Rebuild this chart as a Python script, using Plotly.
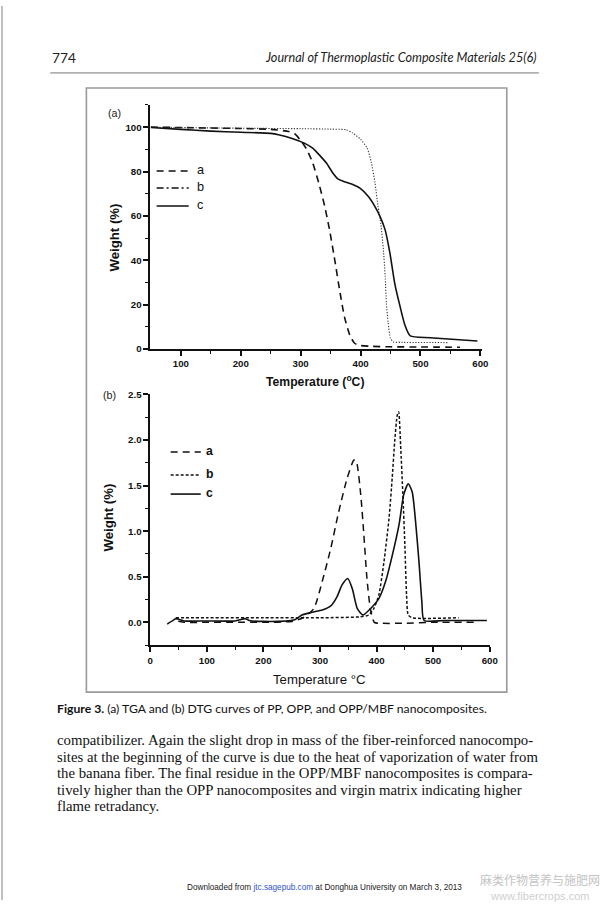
import plotly.graph_objects as go

W, H = 603, 905

# ---------------- data: (a) TGA ----------------
tga_a_T = [50, 100, 150, 200, 250, 280, 290, 300, 310, 320, 330, 340, 348, 357, 365, 373, 382, 390, 399, 420, 450, 500, 566]
tga_a_W = [100, 99.8, 99.6, 99.4, 99.0, 98.0, 97.0, 94.0, 90.0, 84.0, 75.0, 64.5, 54.0, 40.0, 26.6, 14.6, 6.3, 2.6, 1.6, 1.2, 1.0, 0.9, 0.8]

tga_b_T = [50, 100, 200, 300, 350, 376, 387, 400, 411, 418, 424, 429, 434, 438, 441, 443, 446, 450, 455, 470, 547]
tga_b_W = [100, 99.8, 99.5, 99.3, 99.1, 98.8, 97.3, 94.5, 90.5, 84.0, 75.0, 64.5, 56.0, 45.0, 33.0, 21.0, 12.0, 4.8, 3.2, 3.0, 2.9]

tga_c_T = [50, 100, 150, 200, 250, 263, 287, 306, 320, 331, 343, 354, 362, 371, 385, 399, 413, 424, 432, 441, 449, 457, 466, 474, 483, 516, 595]
tga_c_W = [99.8, 99.0, 98.2, 97.7, 97.2, 96.6, 94.8, 92.8, 90.5, 87.5, 83.8, 79.2, 76.7, 75.6, 74.4, 72.5, 68.7, 64.2, 60.0, 53.7, 43.2, 29.6, 19.1, 10.8, 5.9, 5.1, 3.6]

# ---------------- data: (b) DTG ----------------
dtg_a_T = [30, 41, 60, 100, 150, 200, 250, 270, 289, 304, 319, 333, 348, 360, 364, 372, 377.5, 383, 389, 396, 405, 450, 500, 575]
dtg_a_V = [-0.02, 0.02, 0.0, 0.0, 0.0, 0.0, 0.01, 0.05, 0.15, 0.45, 0.81, 1.21, 1.58, 1.78, 1.77, 1.40, 0.96, 0.48, 0.15, 0.0, -0.01, -0.01, 0.0, 0.0]

dtg_b_T = [45, 100, 200, 300, 370, 386, 395, 404, 413, 422, 427.6, 432, 436.5, 439, 442.5, 446.5, 450, 453, 456, 463, 545]
dtg_b_V = [0.05, 0.05, 0.05, 0.05, 0.06, 0.08, 0.15, 0.30, 0.66, 1.14, 1.58, 1.98, 2.27, 2.31, 1.94, 1.40, 0.85, 0.30, 0.08, 0.05, 0.05]

dtg_c_T = [40, 45, 60, 100, 150, 168, 175, 200, 254, 268, 286, 304, 319, 330, 339, 349, 357, 366, 376, 386, 404, 416, 428, 440, 448, 456, 463, 469, 475, 480, 484, 520, 595]
dtg_c_V = [0.02, 0.04, 0.015, 0.015, 0.015, 0.04, 0.02, 0.01, 0.025, 0.08, 0.11, 0.135, 0.18, 0.28, 0.41, 0.48, 0.37, 0.15, 0.08, 0.13, 0.26, 0.45, 0.74, 1.08, 1.40, 1.52, 1.43, 1.10, 0.66, 0.23, 0.02, 0.02, 0.02]

legend_labels = ["a", "b", "c"]

header_left = "774"
header_right = "Journal of Thermoplastic Composite Materials 25(6)"
caption = "<b>Figure 3.</b> (a) TGA and (b) DTG curves of PP, OPP, and OPP/MBF nanocomposites."
body_lines = [
    "compatibilizer. Again the slight drop in mass of the fiber-reinforced nanocompo-",
    "sites at the beginning of the curve is due to the heat of vaporization of water from",
    "the banana fiber. The final residue in the OPP/MBF nanocomposites is compara-",
    "tively higher than the OPP nanocomposites and virgin matrix indicating higher",
    "flame retradancy.",
]

# ---------------- helpers (page pixel -> paper fraction, with photo calibration) ----------------
def X(px):
    return ((px - 4.9) / 0.9785) / W

def Y(py):
    return 1 - ((py - 6.1) / 0.9875) / H

BLACK = "#111111"
SPL = dict(shape="spline", smoothing=0.6)

fig = go.Figure()

fig.add_trace(go.Scatter(x=tga_a_T, y=tga_a_W, mode="lines", xaxis="x", yaxis="y",
                         line=dict(color=BLACK, width=1.6, dash="7px,5px", **SPL)))
fig.add_trace(go.Scatter(x=tga_b_T, y=tga_b_W, mode="lines", xaxis="x", yaxis="y",
                         line=dict(color="#333333", width=1.1, dash="1.2px,1.6px", **SPL)))
fig.add_trace(go.Scatter(x=tga_c_T, y=tga_c_W, mode="lines", xaxis="x", yaxis="y",
                         line=dict(color=BLACK, width=1.6, **SPL)))

fig.add_trace(go.Scatter(x=dtg_a_T, y=dtg_a_V, mode="lines", xaxis="x2", yaxis="y2",
                         line=dict(color=BLACK, width=1.5, dash="7px,5px", **SPL)))
fig.add_trace(go.Scatter(x=dtg_b_T, y=dtg_b_V, mode="lines", xaxis="x2", yaxis="y2",
                         line=dict(color=BLACK, width=1.5, dash="3px,2px", **SPL)))
fig.add_trace(go.Scatter(x=dtg_c_T, y=dtg_c_V, mode="lines", xaxis="x2", yaxis="y2",
                         line=dict(color=BLACK, width=1.6, **SPL)))

tickfont = dict(family="Liberation Sans", size=9.7, color=BLACK, weight="bold")
axis_common = dict(showline=True, linecolor=BLACK, linewidth=1.6, ticks="outside",
                   ticklen=5, tickwidth=1.5, tickcolor=BLACK, showgrid=False,
                   zeroline=False, tickfont=tickfont, fixedrange=True)

fig.update_layout(
    width=W, height=H, margin=dict(l=0, r=0, t=0, b=0),
    paper_bgcolor="white", plot_bgcolor="white", showlegend=False,
    xaxis=dict(domain=[X(151.7), X(482.5)], range=[49, 603], anchor="y",
               tickvals=[100, 200, 300, 400, 500, 600],
               minor=dict(tickvals=[150, 250, 350, 450, 550], ticks="outside", ticklen=3,
                          tickwidth=1.2, tickcolor=BLACK),
               **axis_common),
    yaxis=dict(domain=[Y(349), Y(105)], range=[0, 110], anchor="x",
               tickvals=[0, 20, 40, 60, 80, 100],
               minor=dict(tickvals=[10, 30, 50, 70, 90, 110], ticks="outside", ticklen=3,
                          tickwidth=1.2, tickcolor=BLACK),
               **axis_common),
    xaxis2=dict(domain=[X(151.7), X(490)], range=[0, 600], anchor="y2",
                tickvals=[0, 100, 200, 300, 400, 500, 600],
                minor=dict(tickvals=[50, 150, 250, 350, 450, 550], ticks="outside", ticklen=3,
                           tickwidth=1.2, tickcolor=BLACK),
                **axis_common),
    yaxis2=dict(domain=[Y(645), Y(394.3)], range=[-0.25, 2.5], anchor="x2",
                tickvals=[0, 0.5, 1.0, 1.5, 2.0, 2.5], tickformat=".1f",
                minor=dict(tickvals=[-0.25, 0.25, 0.75, 1.25, 1.75, 2.25], ticks="outside", ticklen=3,
                           tickwidth=1.2, tickcolor=BLACK),
                **axis_common),
)

shapes = []
annotations = []

def text(x, y, s, size, family="Liberation Sans", xanchor="center", color=BLACK, weight="normal",
         style="normal", textangle=0, yanchor="middle"):
    annotations.append(dict(x=X(x), y=Y(y), xref="paper", yref="paper", text=s, showarrow=False,
                            xanchor=xanchor, yanchor=yanchor, textangle=textangle,
                            font=dict(family=family, size=size, color=color, weight=weight, style=style)))

# page decorations
shapes.append(dict(type="rect", xref="paper", yref="paper", x0=0, x1=X(3), y0=0, y1=1,
                   fillcolor="#bdbdbd", line=dict(width=0)))
shapes.append(dict(type="line", xref="paper", yref="paper", x0=X(52), x1=X(539), y0=Y(73), y1=Y(73),
                   line=dict(color="#777777", width=1)))
shapes.append(dict(type="rect", xref="paper", yref="paper", x0=X(88), x1=X(507), y0=Y(692), y1=Y(88),
                   line=dict(color="#9a9a9a", width=1.6)))

text(52, 58, header_left, 13.7, family="Lato", xanchor="left", color="#222")
text(538, 58, header_right, 12.65, family="Lato", xanchor="right", color="#222", style="italic")

text(116, 113, "(a)", 10.7, color="#222")
text(111, 395, "(b)", 10.7, color="#222")

text(316, 381, "Temperature (<sup>o</sup>C)", 12.2, weight="bold")
text(117, 237, "Weight (%)", 13.2, weight="bold", textangle=-90)
text(110, 517, "Weight (%)", 13.2, weight="bold", textangle=-90)
text(320, 679, "Temperature °C", 13.2)

leg_a_y = [171, 188, 206]
leg_a_dash = ["7px,5px", "7px,3px,2px,3px", "solid"]
for lbl, yy, dsh in zip(legend_labels, leg_a_y, leg_a_dash):
    shapes.append(dict(type="line", xref="paper", yref="paper", x0=X(158), x1=X(190), y0=Y(yy), y1=Y(yy),
                       line=dict(color=BLACK, width=1.6, dash=dsh)))
    text(196, yy - 1, lbl, 12.7, xanchor="left")

leg_b_y = [452, 475, 494]
leg_b_dash = ["7px,5px", "3px,2px", "solid"]
for lbl, yy, dsh in zip(legend_labels, leg_b_y, leg_b_dash):
    shapes.append(dict(type="line", xref="paper", yref="paper", x0=X(172), x1=X(202), y0=Y(yy), y1=Y(yy),
                       line=dict(color=BLACK, width=1.6, dash=dsh)))
    text(205, yy - 1, lbl, 12.2, xanchor="left", weight="bold")

text(57, 708, caption, 12.2, family="Lato", xanchor="left", color="#111")
body_y = [740, 756.5, 773, 789.5, 806]
for s, yy in zip(body_lines, body_y):
    text(57, yy, s, 14.75, family="Liberation Serif", xanchor="left", color="#111")

text(325, 887, 'Downloaded from <span style="color:#3355cc">jtc.sagepub.com</span> at Donghua University on March 3, 2013',
     8.2, xanchor="center", color="#222")
text(540, 879, "麻类作物营养与施肥网", 12, family="Noto Sans CJK SC", color="#c4c4c4")
text(540, 896, "www.fibercrops.com", 11, color="#cfcfcf")

fig.update_layout(shapes=shapes, annotations=annotations)

post = (
    "document.documentElement.style.margin='0';document.documentElement.style.padding='0';"
    "document.documentElement.style.overflow='hidden';"
    "document.body.style.margin='0';document.body.style.padding='0';document.body.style.overflow='hidden';"
    "var d=document.getElementById('{plot_id}');"
    "d.style.position='fixed';d.style.left='0px';d.style.top='0px';"
)
fig.write_html("out.html", config={"displayModeBar": False}, post_script=post)
